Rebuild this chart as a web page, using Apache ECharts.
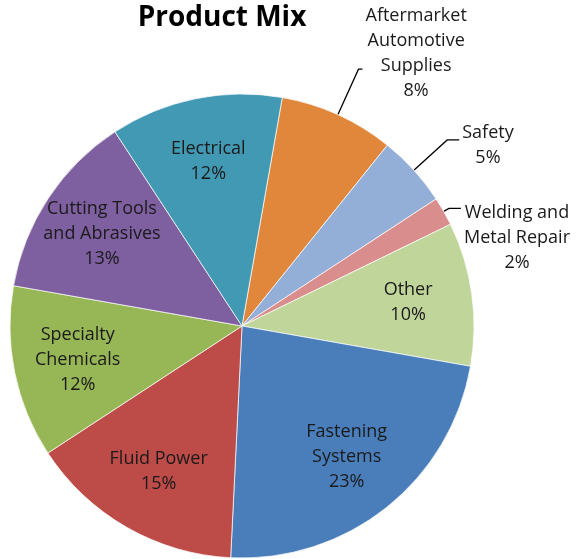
<!DOCTYPE html>
<html>
<head>
<meta charset="utf-8">
<script src="https://cdn.jsdelivr.net/npm/echarts@6/dist/echarts.min.js"></script>
<style>
html,body{margin:0;padding:0;background:#fff;}
#chart{width:580px;height:559px;}
</style>
</head>
<body>
<div id="chart"></div>
<script>
const titleText = 'Product Mix';
const categories = ['Aftermarket Automotive Supplies', 'Safety', 'Welding and Metal Repair', 'Other', 'Fastening Systems', 'Fluid Power', 'Specialty Chemicals', 'Cutting Tools and Abrasives', 'Electrical'];
const labelNames = ['Aftermarket\nAutomotive\nSupplies', 'Safety', 'Welding and\nMetal Repair', 'Other', 'Fastening\nSystems', 'Fluid Power', 'Specialty\nChemicals', 'Cutting Tools\nand Abrasives', 'Electrical'];
const values = [8, 5, 2, 10, 23, 15, 12, 13, 12];
const colors = ['#E0873C', '#93AFD8', '#D98E8D', '#C0D59A', '#4A7EBB', '#BD4B48', '#97B655', '#7E5F9F', '#4299B4'];
const outsideItems = ['Aftermarket Automotive Supplies', 'Safety', 'Welding and Metal Repair'];
const outsideStyle = {
  'Aftermarket Automotive Supplies': { length: 50, length2: 4, padding: [0, 0, 32, 0] },
  'Safety': { length: 45, length2: 12, padding: [11, 0, 0, 0] },
  'Welding and Metal Repair': { length: 6, length2: 12, padding: [58, 0, 0, 0] }
};

const FONT = '"Open Sans", Lato, sans-serif';
const center = [242, 326];
const R = 232;
const startAngle = 80;

function fmt(p) {
  const lines = labelNames[p.dataIndex].split('\n');
  lines.push(Math.round(p.percent) + '%');
  return lines.map(l => '{c|' + l + '}').join('\n');
}
const rich = { c: { align: 'center', fontSize: 18, lineHeight: 25, fontFamily: FONT, color: '#1a1a1a' } };

const mainData = categories.map((c, i) => {
  const isOut = outsideItems.indexOf(c) >= 0;
  const st = outsideStyle[c];
  return {
    name: c,
    value: values[i],
    itemStyle: { color: colors[i] },
    label: isOut ? { show: true, padding: st.padding } : { show: false },
    labelLine: isOut ? { show: true, length: st.length, length2: st.length2 } : { show: false }
  };
});
const labelData = categories.map((c, i) => ({
  name: c,
  value: values[i],
  label: { show: outsideItems.indexOf(c) < 0 }
}));

const chart = echarts.init(document.getElementById('chart'), null, { renderer: 'canvas' });
chart.setOption({
  backgroundColor: '#fff',
  animation: false,
  title: {
    text: titleText,
    left: 217, top: -1, textAlign: 'center',
    textStyle: { fontFamily: FONT, fontWeight: 'bold', fontSize: 28, color: '#000' }
  },
  series: [
    {
      type: 'pie',
      center: center,
      radius: R,
      startAngle: startAngle,
      clockwise: true,
      avoidLabelOverlap: false,
      percentPrecision: 0,
      itemStyle: { borderColor: 'rgba(255,255,255,0.7)', borderWidth: 1 },
      label: { position: 'outside', formatter: fmt, rich: rich, distanceToLabelLine: 3 },
      labelLine: { lineStyle: { color: '#000', width: 1.3 } },
      emphasis: { disabled: true },
      data: mainData
    },
    {
      type: 'pie',
      center: center,
      radius: [R * 0.42, R],
      startAngle: startAngle,
      clockwise: true,
      silent: true,
      avoidLabelOverlap: false,
      percentPrecision: 0,
      itemStyle: { color: 'rgba(0,0,0,0)' },
      label: { position: 'inside', formatter: fmt, rich: rich },
      labelLine: { show: false },
      emphasis: { disabled: true },
      data: labelData
    }
  ]
});
</script>
</body>
</html>
